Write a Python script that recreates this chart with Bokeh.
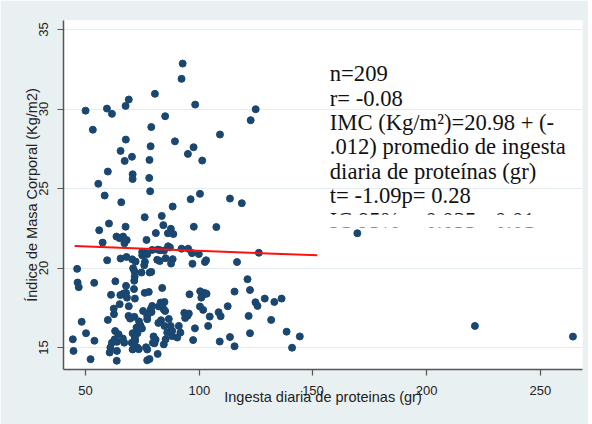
from bokeh.plotting import figure
from bokeh.models import Range1d, Label, BoxAnnotation, FixedTicker
from bokeh.embed import file_html
from bokeh.resources import INLINE

# Data (protein intake g/day, BMI kg/m2)
protein_g = [
    92.7, 92.2, 80.5, 69.0, 67.6, 98.2, 50.0, 59.4, 61.6, 85.0,
    124.8, 122.6, 53.2, 78.9, 109.1, 67.7, 65.4, 78.6, 89.3, 97.5,
    95.0, 70.4, 67.2, 78.1, 101.3, 70.7, 59.8, 70.7, 78.0, 55.6,
    58.4, 78.4, 100.3, 96.2, 113.5, 118.7, 65.7, 88.3, 76.0, 83.5,
    56.0, 60.3, 67.6, 84.2, 97.6, 107.5, 87.5, 80.9, 86.2, 88.6,
    63.6, 65.0, 66.5, 68.1, 67.1, 57.5, 76.8,
    86.3, 87.1, 92.2, 95.1, 81.8, 84.5, 82.8, 79.3,
    74.9, 76.1, 74.9, 77.1, 96.8, 99.8, 126.2,
    59.5, 65.4, 68.0, 70.5, 72.0, 76.1, 81.5, 82.6, 85.2, 88.3,
    87.6, 103.0, 102.5, 116.6, 97.0, 75.8,
    46.3, 70.9, 71.5, 74.6, 78.2, 78.9, 71.6,
    46.5, 47.0, 53.8, 63.1, 71.4, 67.8, 71.3, 83.7, 121.2, 122.3, 115.5, 95.7,
    100.4, 101.5, 102.2, 103.2, 61.2, 65.3, 66.7, 67.8, 68.2, 71.7, 76.0, 77.8, 100.9,
    65.0, 69.0, 83.0, 84.7, 82.2, 83.7, 84.4, 85.0, 79.3, 79.0, 62.4, 62.5, 78.7, 78.3, 77.1, 75.3,
    93.4, 94.8, 93.8, 95.4, 104.6, 108.5, 109.4, 112.5, 100.3, 101.7, 121.7, 124.7, 125.6, 128.8, 133.0, 136.2, 131.6,
    68.9, 71.5, 69.6, 59.8, 48.3,
    82.0, 83.2, 84.7, 86.6, 87.4, 88.1, 85.9, 88.1, 91.0, 91.7, 90.3,
    73.5, 74.1, 72.4, 74.8, 77.1,
    63.0, 64.5, 62.8, 61.6, 60.9, 60.6, 63.8, 66.4, 67.0, 63.8,
    70.7, 71.7, 72.8, 70.3, 71.5, 72.8, 73.4, 70.7, 71.8,
    76.6, 77.1, 79.9, 80.8, 80.3, 84.4, 85.2, 79.6,
    98.1, 103.9, 97.3, 109.0, 113.5, 115.5, 122.3, 138.4, 140.8, 144.2,
    44.4, 44.7, 53.9, 50.2, 52.2, 63.7, 77.1, 78.1, 81.7,
    169.5, 221.2, 264.3,
]
imc = [
    32.86, 31.90, 30.96, 30.60, 30.20, 30.28, 29.90, 30.03, 29.70, 29.55,
    29.99, 29.30, 28.70, 28.87, 28.40, 28.08, 27.37, 27.66, 27.97, 27.60,
    27.18, 27.00, 26.74, 26.80, 26.76, 25.90, 26.07, 25.60, 25.67, 25.30,
    24.56, 24.83, 24.67, 24.33, 24.37, 24.08, 24.14, 23.87, 23.20, 23.28,
    22.38, 22.80, 22.60, 22.70, 22.60, 22.58, 22.47, 22.20, 22.19, 22.14,
    21.98, 21.88, 21.98, 21.76, 21.56, 21.60, 21.77,
    21.37, 21.30, 21.22, 21.22, 21.16, 21.10, 21.12, 21.14,
    21.01, 20.97, 20.80, 20.87, 20.94, 20.88, 20.96,
    20.49, 20.60, 20.70, 20.55, 20.41, 20.39, 20.52, 20.44, 20.62, 20.56,
    20.28, 20.49, 20.38, 20.38, 20.27, 20.18,
    19.95, 19.99, 19.80, 19.72, 19.72, 19.76, 19.47,
    19.09, 18.80, 19.07, 19.17, 19.20, 18.88, 18.68, 18.75, 19.30, 18.62, 18.52, 18.35,
    18.54, 18.30, 18.44, 18.38, 18.32, 18.30, 18.40, 18.44, 18.14, 18.08, 18.44, 18.50, 18.14,
    17.73, 17.60, 17.83, 17.87, 17.58, 17.62, 17.40, 17.30, 17.62, 17.24, 17.45, 17.10, 17.42, 17.20, 16.99, 17.30,
    17.18, 17.00, 16.86, 17.14, 16.95, 17.22, 16.97, 17.60, 17.58, 17.37, 16.99, 17.85, 17.62, 18.08, 17.87, 18.08, 16.74,
    16.99, 16.93, 16.82, 16.74, 16.62,
    16.55, 16.72, 16.36, 16.80, 16.36, 16.05, 15.94, 15.72, 16.36, 15.94, 15.63,
    16.65, 16.40, 16.26, 16.20, 16.78,
    16.04, 15.84, 15.52, 15.31, 15.00, 14.69, 14.79, 15.57, 15.31, 15.36,
    15.90, 15.60, 15.90, 15.30, 15.10, 15.00, 14.90, 14.88, 15.42,
    15.02, 14.88, 15.70, 15.50, 15.27, 15.20, 15.52, 15.30,
    16.21, 16.36, 15.47, 15.38, 15.66, 15.08, 15.90, 16.00, 14.99, 15.70,
    15.52, 14.79, 15.43, 15.90, 14.27, 14.17, 14.20, 14.28, 14.60,
    22.19, 16.36, 15.69,
]

# Fitted line as drawn in the reference (endpoints)
fit_x = [45.2, 151.9]
fit_y = [21.38, 20.80]

x_ticks = [50, 100, 150, 200, 250]
y_ticks = [15, 20, 25, 30, 35]

stats_lines = [
    "n=209",
    "r= -0.08",
    "IMC (Kg/m²)=20.98 + (-",
    ".012) promedio de ingesta",
    "diaria de proteínas (gr)",
    "t= -1.09p= 0.28",
    "IC 95%= -0.035 - 0.01",
]

BG = "#e9f0f2"
NAVY = "#1a476f"
SANS = "Liberation Sans"
SERIF = "Liberation Serif"

p = figure(width=588, height=424, output_backend="svg", toolbar_location=None,
           x_range=Range1d(40.3, 268.5), y_range=Range1d(13.62, 35.57),
           min_border_left=63, min_border_right=6, min_border_top=20, min_border_bottom=55)
p.border_fill_color = BG
p.background_fill_color = "white"
p.outline_line_color = None

p.xgrid.grid_line_color = None
p.ygrid.grid_line_color = "#e4ecef"
p.ygrid.grid_line_width = 1

p.xaxis.ticker = FixedTicker(ticks=x_ticks)
p.yaxis.ticker = FixedTicker(ticks=y_ticks)
for ax in (p.xaxis[0], p.yaxis[0]):
    ax.axis_line_color = "#555555"
    ax.axis_line_width = 1.5
    ax.major_tick_line_color = "#555555"
    ax.major_tick_line_width = 1.2
    ax.major_tick_out = 6
    ax.major_tick_in = 0
    ax.minor_tick_line_color = None
    ax.major_label_text_font = SANS
    ax.major_label_text_font_size = "13px"
    ax.major_label_text_color = "#222222"
    ax.axis_label_text_font = SANS
    ax.axis_label_text_font_size = "14.5px"
    ax.axis_label_text_font_style = "normal"
    ax.axis_label_text_color = "#222222"

p.xaxis.axis_label = "Ingesta diaria de proteinas (gr)"
p.xaxis.major_label_standoff = 10
p.xaxis.axis_label_standoff = -9
p.yaxis.axis_label = "Índice de Masa Corporal (Kg/m2)"
p.yaxis.major_label_orientation = "vertical"
p.yaxis.major_label_standoff = 9
p.yaxis.axis_label_standoff = -3

p.scatter(protein_g, imc, size=7, marker="circle", fill_color=NAVY, line_color=NAVY)
p.line(fit_x, fit_y, line_color="#ff1010", line_width=2)

x0 = 157.4
y0 = 32.23
dy = 1.535
for i, t in enumerate(stats_lines):
    p.add_layout(Label(x=x0, y=y0 - i * dy, text=t, text_font=SERIF,
                       text_font_size="22.6px", text_color="#111111",
                       text_baseline="alphabetic", text_align="left"))

# the last line is cut off in the reference
p.add_layout(BoxAnnotation(left=155, right=268.5, bottom=22.55, top=23.36,
                           fill_color="white", fill_alpha=1.0, line_alpha=0,
                           level="overlay"))

open("out.html", "w").write(file_html(p, INLINE))
